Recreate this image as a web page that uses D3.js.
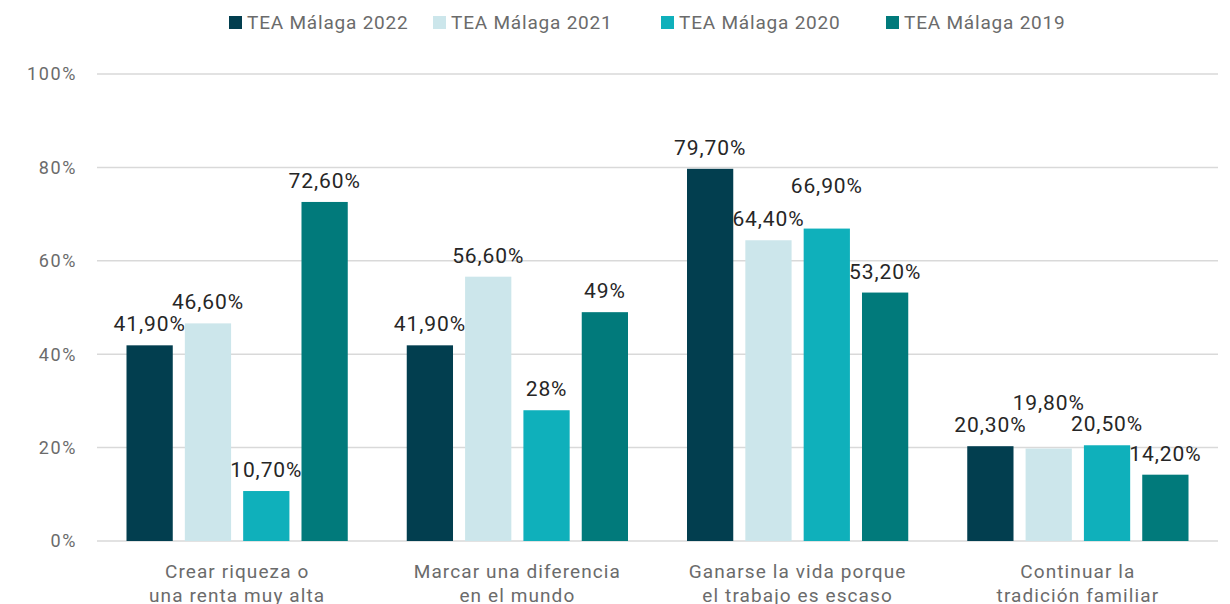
<!DOCTYPE html>
<html>
<head>
<meta charset="utf-8">
<script src="https://cdn.jsdelivr.net/npm/d3@7"></script>
<style>
  body { margin: 0; background: #fff; }
  svg text { font-family: Roboto, "Liberation Sans", sans-serif; }
</style>
</head>
<body>
<div id="chart"></div>
<script>
const categories = [
  ["Crear riqueza o", "una renta muy alta"],
  ["Marcar una diferencia", "en el mundo"],
  ["Ganarse la vida porque", "el trabajo es escaso"],
  ["Continuar la", "tradición familiar"]
];
const seriesNames = ["TEA Málaga 2022", "TEA Málaga 2021", "TEA Málaga 2020", "TEA Málaga 2019"];
const values2022 = [41.9, 41.9, 79.7, 20.3];
const values2021 = [46.6, 56.6, 64.4, 19.8];
const values2020 = [10.7, 28, 66.9, 20.5];
const values2019 = [72.6, 49, 53.2, 14.2];
const labels2022 = ["41,90%", "41,90%", "79,70%", "20,30%"];
const labels2021 = ["46,60%", "56,60%", "64,40%", "19,80%"];
const labels2020 = ["10,70%", "28%", "66,90%", "20,50%"];
const labels2019 = ["72,60%", "49%", "53,20%", "14,20%"];
const yTicks = [0, 20, 40, 60, 80, 100];
const colors = ["#023e4f", "#cce6eb", "#0fb0bb", "#017a7b"];

const allValues = [values2022, values2021, values2020, values2019];
const allLabels = [labels2022, labels2021, labels2020, labels2019];

const W = 1230, H = 604;
const margin = { top: 74, right: 12, bottom: 63, left: 97 };
const width = W - margin.left - margin.right;
const height = H - margin.top - margin.bottom;

const svg = d3.select("#chart").append("svg")
    .attr("width", W)
    .attr("height", H);

const g = svg.append("g")
    .attr("transform", `translate(${margin.left},${margin.top})`);

const x0 = d3.scaleBand()
    .domain(d3.range(categories.length))
    .range([0, width])
    .padding(0);

const x1 = d3.scaleBand()
    .domain(d3.range(seriesNames.length))
    .range([29.5, x0.bandwidth() - 29.5])
    .paddingInner(0.207)
    .paddingOuter(0);

const y = d3.scaleLinear()
    .domain([0, 100])
    .range([height, 0]);

// gridlines
g.selectAll(".grid")
    .data(yTicks)
    .enter()
    .append("line")
    .attr("x1", 0)
    .attr("x2", width)
    .attr("y1", d => y(d))
    .attr("y2", d => y(d))
    .attr("stroke", "#d9d9d9")
    .attr("stroke-width", 1.5);

// y tick labels
g.selectAll(".ytick")
    .data(yTicks)
    .enter()
    .append("text")
    .attr("x", -20)
    .attr("y", d => y(d))
    .attr("dy", "0.35em")
    .attr("text-anchor", "end")
    .attr("fill", "#6b6b6b")
    .attr("font-size", 18)
    .attr("letter-spacing", 1.6)
    .text(d => d + "%");

// bars
const groups = g.selectAll(".group")
    .data(categories)
    .enter()
    .append("g")
    .attr("transform", (d, i) => `translate(${x0(i)},0)`);

groups.each(function(cat, ci) {
  const grp = d3.select(this);
  const rows = allValues.map((vals, si) => ({ si, v: vals[ci], label: allLabels[si][ci] }));

  grp.selectAll("rect")
    .data(rows)
    .enter()
    .append("rect")
    .attr("x", d => x1(d.si))
    .attr("width", x1.bandwidth())
    .attr("y", d => y(d.v))
    .attr("height", d => height - y(d.v))
    .attr("fill", d => colors[d.si]);

  // label placement with simple collision nudge
  let prevY = null;
  rows.forEach(d => {
    let ly = y(d.v) - 14;
    if (prevY !== null && Math.abs(ly - prevY) < 18) ly = Math.min(ly, prevY) - 22;
    d.ly = ly;
    prevY = ly;
  });

  grp.selectAll("text.val")
    .data(rows)
    .enter()
    .append("text")
    .attr("class", "val")
    .attr("x", d => x1(d.si) + x1.bandwidth() / 2)
    .attr("y", d => d.ly)
    .attr("text-anchor", "middle")
    .attr("fill", "#262626")
    .attr("font-size", 21)
    .attr("letter-spacing", 0.9)
    .text(d => d.label);
});

// x axis labels
const xl = g.selectAll(".xlab")
    .data(categories)
    .enter()
    .append("text")
    .attr("text-anchor", "middle")
    .attr("fill", "#6b6b6b")
    .attr("font-size", 19)
    .attr("letter-spacing", 1.1)
    .attr("transform", (d, i) => `translate(${x0(i) + x0.bandwidth() / 2},${height + 37})`);

xl.selectAll("tspan")
    .data(d => d)
    .enter()
    .append("tspan")
    .attr("x", 0)
    .attr("dy", (d, i) => i === 0 ? 0 : 24)
    .text(d => d);

// legend
const legendX = [229, 433, 661, 886];
const legend = svg.selectAll(".legend")
    .data(seriesNames)
    .enter()
    .append("g")
    .attr("transform", (d, i) => `translate(${legendX[i]},16)`);

legend.append("rect")
    .attr("width", 13)
    .attr("height", 13)
    .attr("fill", (d, i) => colors[i]);

legend.append("text")
    .attr("x", 18)
    .attr("y", 6.5)
    .attr("dy", "0.35em")
    .attr("fill", "#6b6b6b")
    .attr("font-size", 19)
    .attr("letter-spacing", 0.8)
    .text(d => d);
</script>
</body>
</html>
